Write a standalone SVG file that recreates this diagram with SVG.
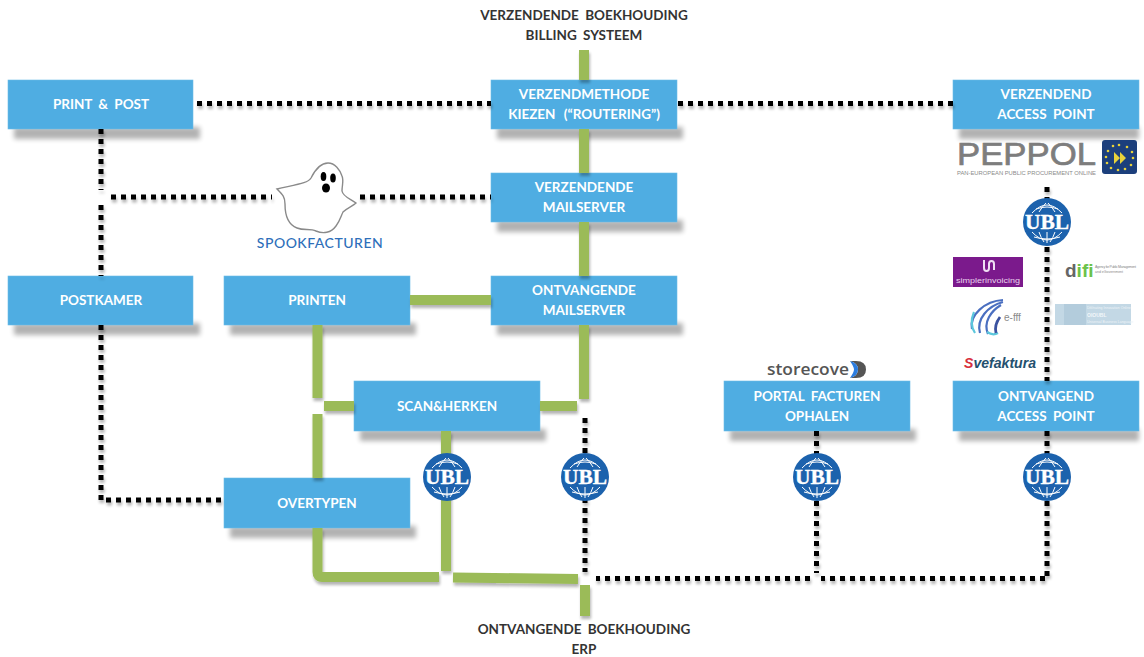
<svg xmlns="http://www.w3.org/2000/svg" width="1144" height="657" viewBox="0 0 1144 657">
<style>
.n{fill:#4fade2;stroke:#6cbce8;stroke-width:.6}
.sh{fill:#000;opacity:.3;filter:url(#bl)}
.t{font-family:Lato,"Open Sans",sans-serif;font-weight:700;font-size:13.5px;fill:#fff;text-anchor:middle;word-spacing:3px}
.k{font-family:Lato,"Open Sans",sans-serif;font-weight:700;font-size:13.5px;fill:#333;text-anchor:middle;word-spacing:3px}
.g{fill:none;stroke:#9bbb59;stroke-width:10}
.d{fill:none;stroke:#000;stroke-width:5;stroke-dasharray:5 5}
.u{font-family:"Liberation Serif",serif;font-weight:700;font-size:22px;fill:#fff;stroke:#fff;stroke-width:.4;text-anchor:middle}
.ga{fill:none;stroke:#fff;stroke-width:1}
</style>
<defs>
<filter id="bl" x="-10%" y="-60%" width="120%" height="220%"><feGaussianBlur stdDeviation="2.500"/></filter>
<filter id="ls" x="0" y="0" width="1144" height="657" filterUnits="userSpaceOnUse"><feGaussianBlur in="SourceAlpha" stdDeviation="1.500"/><feOffset dx="1" dy="3"/><feComponentTransfer result="b"><feFuncA type="linear" slope="0.3"/></feComponentTransfer><feMerge><feMergeNode in="b"/><feMergeNode in="SourceGraphic"/></feMerge></filter>
<g id="ubl">
<circle r="24" fill="#1c62ad"/>
<path class="ga" d="M-15-9Q0-25 15-9M-8-10Q-5-15-1-19M8-10Q5-15 1-19M-11-13Q0-17 11-13M-15 10Q0 26 15 10M-8 10Q-6 16-3 20M8 10Q6 16 3 20M0 10V21M-13 15Q0 19 13 15"/>
<text class="u" y="7" textLength="44" lengthAdjust="spacingAndGlyphs">UBL</text>
</g>
</defs>

<g id="print-post"><rect class="sh" x="14" y="127" width="186" height="12"/><rect class="n" x="8" y="80" width="185" height="49"/><text class="t" x="101" y="109">PRINT &amp; POST</text></g>
<g id="verzendmethode"><rect class="sh" x="497" y="127" width="186" height="12"/><rect class="n" x="491" y="80" width="186" height="49"/><text class="t" x="584" y="99">VERZENDMETHODE</text><text class="t" x="584" y="119" style="word-spacing:5px">KIEZEN (“ROUTERING”)</text></g>
<g id="verzendend-ap"><rect class="sh" x="959" y="127" width="180" height="12"/><rect class="n" x="953" y="80" width="186" height="49"/><text class="t" x="1046" y="99">VERZENDEND</text><text class="t" x="1046" y="119">ACCESS POINT</text></g>
<g id="verzendende-mailserver"><rect class="sh" x="497" y="220" width="186" height="12"/><rect class="n" x="491" y="173" width="186" height="49"/><text class="t" x="584" y="192">VERZENDENDE</text><text class="t" x="584" y="212">MAILSERVER</text></g>
<g id="postkamer"><rect class="sh" x="14" y="323" width="186" height="12"/><rect class="n" x="8" y="276" width="185" height="49"/><text class="t" x="101" y="305">POSTKAMER</text></g>
<g id="printen"><rect class="sh" x="230" y="323" width="186" height="12"/><rect class="n" x="224" y="276" width="186" height="49"/><text class="t" x="317" y="305">PRINTEN</text></g>
<g id="ontvangende-mailserver"><rect class="sh" x="497" y="323" width="186" height="12"/><rect class="n" x="491" y="276" width="186" height="49"/><text class="t" x="584" y="295">ONTVANGENDE</text><text class="t" x="584" y="315">MAILSERVER</text></g>
<g id="scan-herken"><rect class="sh" x="360" y="429" width="186" height="12"/><rect class="n" x="354" y="381" width="186" height="50"/><text class="t" x="447" y="411">SCAN&amp;HERKEN</text></g>
<g id="portal"><rect class="sh" x="730" y="429" width="186" height="12"/><rect class="n" x="724" y="381" width="186" height="50"/><text class="t" x="817" y="401">PORTAL FACTUREN</text><text class="t" x="817" y="421">OPHALEN</text></g>
<g id="ontvangend-ap"><rect class="sh" x="959" y="429" width="180" height="12"/><rect class="n" x="953" y="381" width="186" height="50"/><text class="t" x="1046" y="401">ONTVANGEND</text><text class="t" x="1046" y="421">ACCESS POINT</text></g>
<g id="overtypen"><rect class="sh" x="230" y="526" width="186" height="12"/><rect class="n" x="224" y="478" width="186" height="50"/><text class="t" x="317" y="508">OVERTYPEN</text></g>

<g id="connectors">
<g id="green" filter="url(#ls)">
<path class="g" d="M584 50V80M584 129V173M584 222V276M584 325V399M410 300H491M317.500 325V398M324 406H354M317.500 414V478M540 406H577M446 431V571"/>
<path class="g" d="M317.500 528V572Q317.500 577 322 577H439"/>
<path class="g" d="M453 577.500L578 579M585 585V616"/>
</g>
<g id="dotted" filter="url(#ls)">
<path class="d" d="M197 103.500H491M678 103.500H953M101 129V190M111 197H272M360 197H491M101 205V276M101 325V500H224M1047 187V381M1047 431V576M1045 578.500H821M810 578.500H596M816.500 431V573M585 418V572"/>
</g>
</g>

<g id="billing"><text class="k" x="584" y="20">VERZENDENDE BOEKHOUDING</text><text class="k" x="584" y="40">BILLING SYSTEEM</text></g>
<g id="erp"><text class="k" x="584" y="634">ONTVANGENDE BOEKHOUDING</text><text class="k" x="584" y="654">ERP</text></g>

<g id="ghost">
<path d="M328 163C319 163 314 172 311 178C308 183 299 184 277 189C283 195 285 197 285 204C285 216 289 225 297 228C304 231 310 228 316 231C323 234 331 233 336 226C340 221 341 216 343 212C347 208 353 206 356 203C351 199 343 197 342 191C342 185 344 181 342 176C340 170 335 163 328 163Z" fill="#fff" stroke="#8a8a8a" stroke-width="1.400"/>
<ellipse cx="323.500" cy="176.500" rx="2.800" ry="4.500"/><ellipse cx="333" cy="178" rx="2.800" ry="4.500"/><ellipse cx="326" cy="188" rx="4" ry="4.500"/>
<text x="320" y="248" font-family="Lato,'Open Sans',sans-serif" font-size="14" font-weight="500" letter-spacing=".5" fill="#2e6fba" text-anchor="middle">SPOOKFACTUREN</text>
</g>

<g id="ubl-icons">
<use href="#ubl" x="447" y="477"/><use href="#ubl" x="585" y="477"/><use href="#ubl" x="817" y="477"/><use href="#ubl" x="1047" y="477"/><use href="#ubl" x="1047" y="222"/>
</g>

<g id="logo-peppol">
<text x="957" y="164.500" font-family="'Liberation Sans',sans-serif" font-size="32" fill="#7d7d7d" stroke="#7d7d7d" stroke-width=".7" textLength="139" lengthAdjust="spacingAndGlyphs">PEPPOL</text>
<text x="957" y="175" font-family="'Liberation Sans',sans-serif" font-size="4.500" fill="#8a8a8a" textLength="139" lengthAdjust="spacingAndGlyphs">PAN-EUROPEAN PUBLIC PROCUREMENT ONLINE</text>
<rect x="1102" y="140" width="35" height="34" rx="3" fill="#1c3f7c"/>
<g fill="#e8d23a"><circle cx="1119" cy="145" r="1.300"/><circle cx="1127" cy="147" r="1.300"/><circle cx="1132" cy="152" r="1.300"/><circle cx="1133" cy="158" r="1.300"/><circle cx="1131" cy="165" r="1.300"/><circle cx="1125" cy="169" r="1.300"/><circle cx="1118" cy="170" r="1.300"/><circle cx="1111" cy="168" r="1.300"/><circle cx="1107" cy="163" r="1.300"/><circle cx="1106" cy="157" r="1.300"/><circle cx="1108" cy="151" r="1.300"/><circle cx="1113" cy="146" r="1.300"/><path d="M1114 152L1120 158L1114 164ZM1120 152L1126 158L1120 164Z"/></g>
</g>
<g id="logo-simplerinvoicing">
<rect x="953" y="257" width="70" height="30" fill="#7b1a8c"/>
<path d="M984 260V268Q984 271 986.500 271T989 268V264Q989 261 991.500 261T994 264V270" fill="none" stroke="#f0dff3" stroke-width="2"/>
<text x="988" y="283" font-family="'Liberation Sans',sans-serif" font-size="8" fill="#e8d5ec" text-anchor="middle" textLength="64" lengthAdjust="spacingAndGlyphs">simplerinvoicing</text>
</g>
<g id="logo-difi">
<text x="1065" y="277" font-family="'Liberation Sans',sans-serif" font-size="19" font-weight="700"><tspan fill="#666">d</tspan><tspan fill="#6cc24a">ifi</tspan></text>
<text x="1095" y="268" font-family="'Liberation Sans',sans-serif" font-size="3.500" fill="#888" textLength="41">Agency for Public Management</text>
<text x="1095" y="273" font-family="'Liberation Sans',sans-serif" font-size="3.500" fill="#888">and eGovernment</text>
</g>
<g id="logo-efff">
<path d="M1003 300C985 301 969 315 972 329M1003 302C988 306 976 319 980 333M1001 305C991 311 983 322 988 334" fill="none" stroke="#4a6fc0" stroke-width="2.200"/>
<path d="M974 312Q969 324 975 333M987 332Q993 336 998 333" fill="none" stroke="#5cc7dc" stroke-width="2.200"/>
<path d="M1000 317Q994 325 996 333" fill="none" stroke="#3a52a0" stroke-width="2.800"/>
<text x="1004" y="321" font-family="'Liberation Sans',sans-serif" font-size="10" fill="#8a8a8a">e-fff</text>
</g>
<g id="logo-dioubl">
<rect x="1055" y="304" width="76" height="21" fill="#c3d8e5"/>
<rect x="1064" y="304" width="22" height="21" fill="#b3ccdc"/>
<text x="1087" y="309" font-family="'Liberation Sans',sans-serif" font-size="3.500" fill="#eef4f8">Difi/nating Innovation Online</text>
<text x="1087" y="317" font-family="'Liberation Sans',sans-serif" font-size="5" font-weight="700" fill="#f2f7fa">OIOUBL</text>
<text x="1087" y="323" font-family="'Liberation Sans',sans-serif" font-size="3.500" fill="#eef4f8">Universal Business Language</text>
</g>
<g id="logo-svefaktura">
<text x="964" y="368" font-family="'Liberation Sans',sans-serif" font-size="14" font-weight="700" font-style="italic" textLength="72" lengthAdjust="spacingAndGlyphs"><tspan fill="#d8303c">S</tspan><tspan fill="#24506e">vefaktura</tspan></text>
</g>
<g id="logo-storecove">
<text x="767" y="375" font-family="'Open Sans',sans-serif" font-size="17" font-weight="600" fill="#555" textLength="82" lengthAdjust="spacingAndGlyphs">storecove</text>
<path d="M850 361H856Q866 361 866 369.500T856 378H850Q858 376 858 369.500T850 361Z" fill="#555"/>
<path d="M850 361Q858 363 858 369.500T850 378Q854 372 854 369.500T850 361Z" fill="#2c7de0"/>
</g>
</svg>
